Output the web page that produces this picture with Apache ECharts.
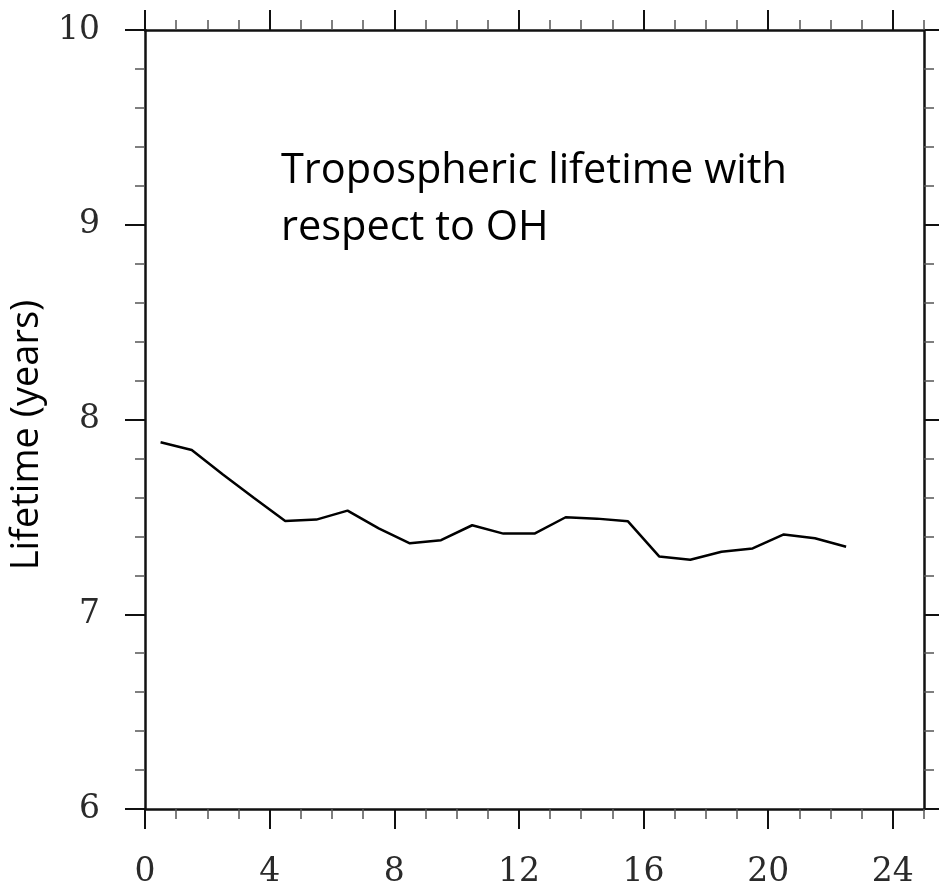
<!DOCTYPE html>
<html>
<head>
<meta charset="utf-8">
<script src="https://cdn.jsdelivr.net/npm/echarts@6/dist/echarts.min.js"></script>
<style>html,body{margin:0;padding:0;background:#fff}#c{width:939px;height:885px}</style>
</head>
<body>
<div id="c"></div>
<script>
const hours = [0.5,1.5,2.5,3.5,4.5,5.5,6.5,7.5,8.5,9.5,10.5,11.5,12.5,13.5,14.5,15.5,16.5,17.5,18.5,19.5,20.5,21.5,22.5];
const lifetime = [7.883,7.843,7.718,7.597,7.479,7.486,7.532,7.441,7.364,7.380,7.457,7.414,7.414,7.498,7.491,7.477,7.297,7.280,7.321,7.338,7.410,7.390,7.347];
const xMajorTicks = [0,4,8,12,16,20,24];
const yTickLabels = ['6','7','8','9','10'];
const yAxisName = 'Lifetime (years)';
const noteLines = ['Tropospheric lifetime with','respect to OH'];

const data = hours.map((h,i)=>[h,lifetime[i]]);
const labelFont = {fontFamily:'DejaVu Serif', fontSize:33, color:'#2a2a2a'};
const axLine = {show:true, onZero:false, lineStyle:{color:'#111', width:2.5}};
const majorTickStyle = {color:'#111', width:2};
const minorTickStyle = {color:'#555', width:1.5};

function xMinor(pos){
  return {type:'value', gridIndex:0, position:pos, min:0, max:25, interval:1,
    axisLine:axLine, axisTick:{show:true, inside:false, length:10, lineStyle:minorTickStyle},
    axisLabel:{show:false}, splitLine:{show:false}};
}
function xMajor(pos, labels){
  return {type:'value', gridIndex:0, position:pos, min:0, max:25,
    axisLine:{show:false, onZero:false},
    axisTick:{show:true, inside:false, length:20, customValues:xMajorTicks, lineStyle:majorTickStyle},
    axisLabel:{show:labels, customValues:xMajorTicks, margin:47, ...labelFont},
    splitLine:{show:false}};
}
function yAx(pos, labels){
  return {type:'value', gridIndex:0, position:pos, min:6, max:10, interval:1,
    axisLine:axLine,
    axisTick:{show:true, inside:false, length:20, lineStyle:majorTickStyle},
    minorTick:{show:true, splitNumber:5, length:10, lineStyle:minorTickStyle},
    axisLabel:{show:labels, margin:45, ...labelFont,
      formatter:(v)=>{const i=Math.round(v-6); return yTickLabels[i]!==undefined?yTickLabels[i]:'';}},
    splitLine:{show:false}};
}

const chart = echarts.init(document.getElementById('c'), null, {renderer:'canvas'});
chart.setOption({
  animation:false,
  backgroundColor:'#fff',
  grid:{left:145, top:30, width:779, height:779, containLabel:false, outerBoundsMode:'none'},
  xAxis:[xMinor('bottom'), xMajor('bottom', true), xMinor('top'), xMajor('top', false)],
  yAxis:[yAx('left', true), yAx('right', false)],
  graphic:[
    {type:'text', x:27, y:435, rotation:Math.PI/2,
      style:{text:yAxisName, fontFamily:'Open Sans', fontSize:38, fill:'#000', align:'center', verticalAlign:'middle'}},
    {type:'text', left:281, top:143,
      style:{text:noteLines.join('\n'), fontFamily:'Open Sans', fontSize:41.5, lineHeight:57, fill:'#000', align:'left'}}
  ],
  series:[{type:'line', xAxisIndex:0, yAxisIndex:0, data:data, showSymbol:false, symbol:'none',
    lineStyle:{color:'#000', width:2.5}}]
});
</script>
</body>
</html>
